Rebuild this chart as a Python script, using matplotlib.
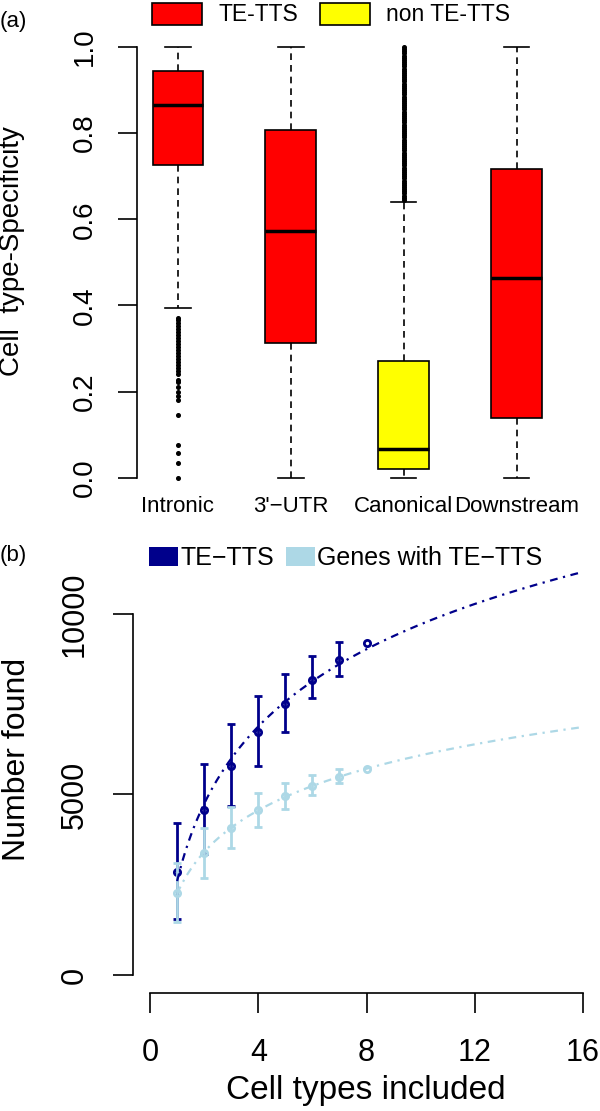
import numpy as np
import matplotlib
matplotlib.use("Agg")
import matplotlib.pyplot as plt
from matplotlib.patches import Patch

plt.rcParams['font.family'] = ['Liberation Sans', 'DejaVu Sans']

# ---- panel (a): cell type specificity boxplots ----
categories = ["Intronic", "3'\u2212UTR", "Canonical", "Downstream"]
box_colors = ["#FF0000", "#FF0000", "#FFFF00", "#FF0000"]
q1 = [0.725, 0.313, 0.021, 0.139]
med = [0.865, 0.572, 0.067, 0.464]
q3 = [0.945, 0.808, 0.270, 0.716]
whis_lo = [0.395, 0.0, 0.0, 0.0]
whis_hi = [1.0, 1.0, 0.641, 1.0]
intronic_out = [0.372, 0.366, 0.359, 0.352, 0.345, 0.338, 0.331, 0.324, 0.317,
                0.310, 0.303, 0.296, 0.289, 0.282, 0.275, 0.268, 0.261, 0.254,
                0.247, 0.240, 0.228, 0.222, 0.210, 0.198, 0.189, 0.180, 0.146,
                0.077, 0.058, 0.035, 0.0]
canonical_out = [0.645, 0.650, 0.655, 0.660, 0.665, 0.670, 0.675, 0.680, 0.685,
                 0.690, 0.695, 0.700, 0.705, 0.710, 0.715, 0.720, 0.725, 0.730,
                 0.735, 0.740, 0.745, 0.750, 0.755, 0.760, 0.765, 0.770, 0.775,
                 0.780, 0.785, 0.790, 0.795, 0.800, 0.805, 0.810, 0.815, 0.820,
                 0.825, 0.830, 0.835, 0.840, 0.845, 0.850, 0.855, 0.860, 0.865,
                 0.870, 0.875, 0.880, 0.885, 0.890, 0.895, 0.900, 0.905, 0.910,
                 0.915, 0.920, 0.925, 0.930, 0.935, 0.940, 0.945, 0.950, 0.955,
                 0.960, 0.965, 0.970, 0.975, 0.980, 0.985, 0.990, 0.995, 1.0]
fliers = [intronic_out, [], canonical_out, []]

# ---- panel (b): saturation curves ----
n_cells = [1, 2, 3, 4, 5, 6, 7, 8]
te_mean = [2860, 4570, 5800, 6740, 7510, 8170, 8720, 9205]
te_hi = [4200, 5845, 6944, 7737, 8347, 8827, 9216]
te_lo = [1550, 3350, 4680, 5798, 6731, 7682, 8282]
gene_mean = [2270, 3380, 4063, 4570, 4960, 5235, 5495, 5706]
gene_hi = [3100, 4080, 4645, 5050, 5327, 5540, 5706]
gene_lo = [1475, 2690, 3510, 4110, 4607, 4986, 5327]

dark = "#00008B"
light = "#ADD8E6"

W, H = 600, 1111
fig = plt.figure(figsize=(W / 100, H / 100), dpi=100)


def fig_box(left, top, right, bottom):
    # pixel box -> figure fraction
    return [left / W, 1 - bottom / H, (right - left) / W, (bottom - top) / H]


# ===== (a) =====
ax1 = fig.add_axes(fig_box(137, 29.8, 600, 495))
stats = []
for i, c in enumerate(categories):
    stats.append(dict(label=c, q1=q1[i], med=med[i], q3=q3[i],
                      whislo=whis_lo[i], whishi=whis_hi[i], fliers=fliers[i]))
bp = ax1.bxp(stats, positions=[1, 2, 3, 4], widths=0.45, capwidths=0.225,
             patch_artist=True,
             boxprops=dict(edgecolor="black", linewidth=1.2),
             whiskerprops=dict(color="black", linewidth=1.2, linestyle=(0, (4, 3))),
             capprops=dict(color="black", linewidth=1.2),
             medianprops=dict(color="black", linewidth=2.5),
             flierprops=dict(marker="o", markersize=2.6, markerfacecolor="black",
                             markeredgecolor="black", linestyle="none"))
for patch, col in zip(bp["boxes"], box_colors):
    patch.set_facecolor(col)

ax1.set_xlim(0.637, 4.738)
ax1.set_ylim(-0.04, 1.04)
ax1.set_yticks([0.0, 0.2, 0.4, 0.6, 0.8, 1.0])
ax1.set_yticklabels(["0.0", "0.2", "0.4", "0.6", "0.8", "1.0"])
ax1.tick_params(axis="y", labelsize=20, length=13.7, width=1.2, pad=14.5,
                labelrotation=90)
for lab in ax1.get_yticklabels():
    lab.set_va("center")
ax1.set_xticks([1, 2, 3, 4])
ax1.set_xticklabels(categories)
ax1.tick_params(axis="x", labelsize=16, length=0, pad=1)
for s in ["top", "right", "bottom"]:
    ax1.spines[s].set_visible(False)
ax1.spines["left"].set_bounds(0, 1)
ax1.spines["left"].set_linewidth(1.2)
ax1.set_ylabel("Cell  type-Specificity", fontsize=20, va="center")
ax1.yaxis.set_label_coords(12 / W, 1 - 251 / H, transform=fig.transFigure)

ax1.legend(handles=[Patch(facecolor="#FF0000", edgecolor="black", linewidth=1.2, label="TE-TTS"),
                    Patch(facecolor="#FFFF00", edgecolor="black", linewidth=1.2, label="non TE-TTS")],
           loc="center left", bbox_to_anchor=(152 / W, 1 - 14.5 / H),
           bbox_transform=fig.transFigure, ncol=2, frameon=False, fontsize=16.5,
           handlelength=2.2, handleheight=1.1, handletextpad=0.7,
           columnspacing=0.95, borderpad=0, borderaxespad=0)

fig.text(0, 1 - 22 / H, "(a)", fontsize=16, ha="left", va="center")

# ===== (b) =====
ax2 = fig.add_axes(fig_box(133, 535, 600, 993))
x = np.array(n_cells)
nb = len(te_hi)

ax2.errorbar(x[:nb], te_mean[:nb],
             yerr=[np.array(te_mean[:nb]) - te_lo, np.array(te_hi) - te_mean[:nb]],
             fmt="none", ecolor=dark, elinewidth=2, capsize=2.9, capthick=2)
ax2.plot(x, te_mean, "o", color=dark, markersize=4.5, markerfacecolor="none",
         markeredgewidth=2)
ax2.errorbar(x[:nb], gene_mean[:nb],
             yerr=[np.array(gene_mean[:nb]) - gene_lo, np.array(gene_hi) - gene_mean[:nb]],
             fmt="none", ecolor=light, elinewidth=2, capsize=2.9, capthick=2)
ax2.plot(x, gene_mean, "o", color=light, markersize=4.5, markerfacecolor="none",
         markeredgewidth=2)

# logarithmic fits, drawn out to 16 cell types
xf = np.linspace(1, 16, 300)
for ys, col in [(te_mean, dark), (gene_mean, light)]:
    b, a = np.polyfit(np.log(x), ys, 1)
    ax2.plot(xf, a + b * np.log(xf), color=col, linewidth=1.6,
             linestyle=(0, (3.5, 2.5, 1, 2.5)))

ax2.set_xlim(-0.63, 16.63)
ax2.set_ylim(-500, 12190)
ax2.set_yticks([0, 5000, 10000])
ax2.set_yticklabels(["0", "5000", "10000"])
ax2.tick_params(axis="y", labelsize=22, length=14.4, width=1.2, pad=16.5,
                labelrotation=90)
for lab in ax2.get_yticklabels():
    lab.set_va("center")
ax2.set_xticks([0, 4, 8, 12, 16])
ax2.tick_params(axis="x", labelsize=22, length=14.4, width=1.2, pad=18)
for s in ["top", "right"]:
    ax2.spines[s].set_visible(False)
ax2.spines["left"].set_bounds(0, 10000)
ax2.spines["bottom"].set_bounds(0, 16)
ax2.spines["left"].set_linewidth(1.2)
ax2.spines["bottom"].set_linewidth(1.2)
ax2.set_ylabel("Number found", fontsize=23, va="center")
ax2.yaxis.set_label_coords(17 / W, 1 - 759 / H, transform=fig.transFigure)
ax2.set_xlabel("Cell types included", fontsize=24, va="center")
ax2.xaxis.set_label_coords(366 / W, 1 - 1090 / H, transform=fig.transFigure)

ax2.legend(handles=[Patch(facecolor=dark, edgecolor="none", label="TE\u2212TTS"),
                    Patch(facecolor=light, edgecolor="none", label="Genes with TE\u2212TTS")],
           loc="center left", bbox_to_anchor=(149 / W, 1 - 558 / H),
           bbox_transform=fig.transFigure, ncol=2, frameon=False, fontsize=18,
           handlelength=1.16, handleheight=0.8, handletextpad=0.1,
           columnspacing=0.45, borderpad=0, borderaxespad=0)

fig.text(0, 1 - 555 / H, "(b)", fontsize=16, ha="left", va="center")

fig.savefig("out.png", dpi=100)
